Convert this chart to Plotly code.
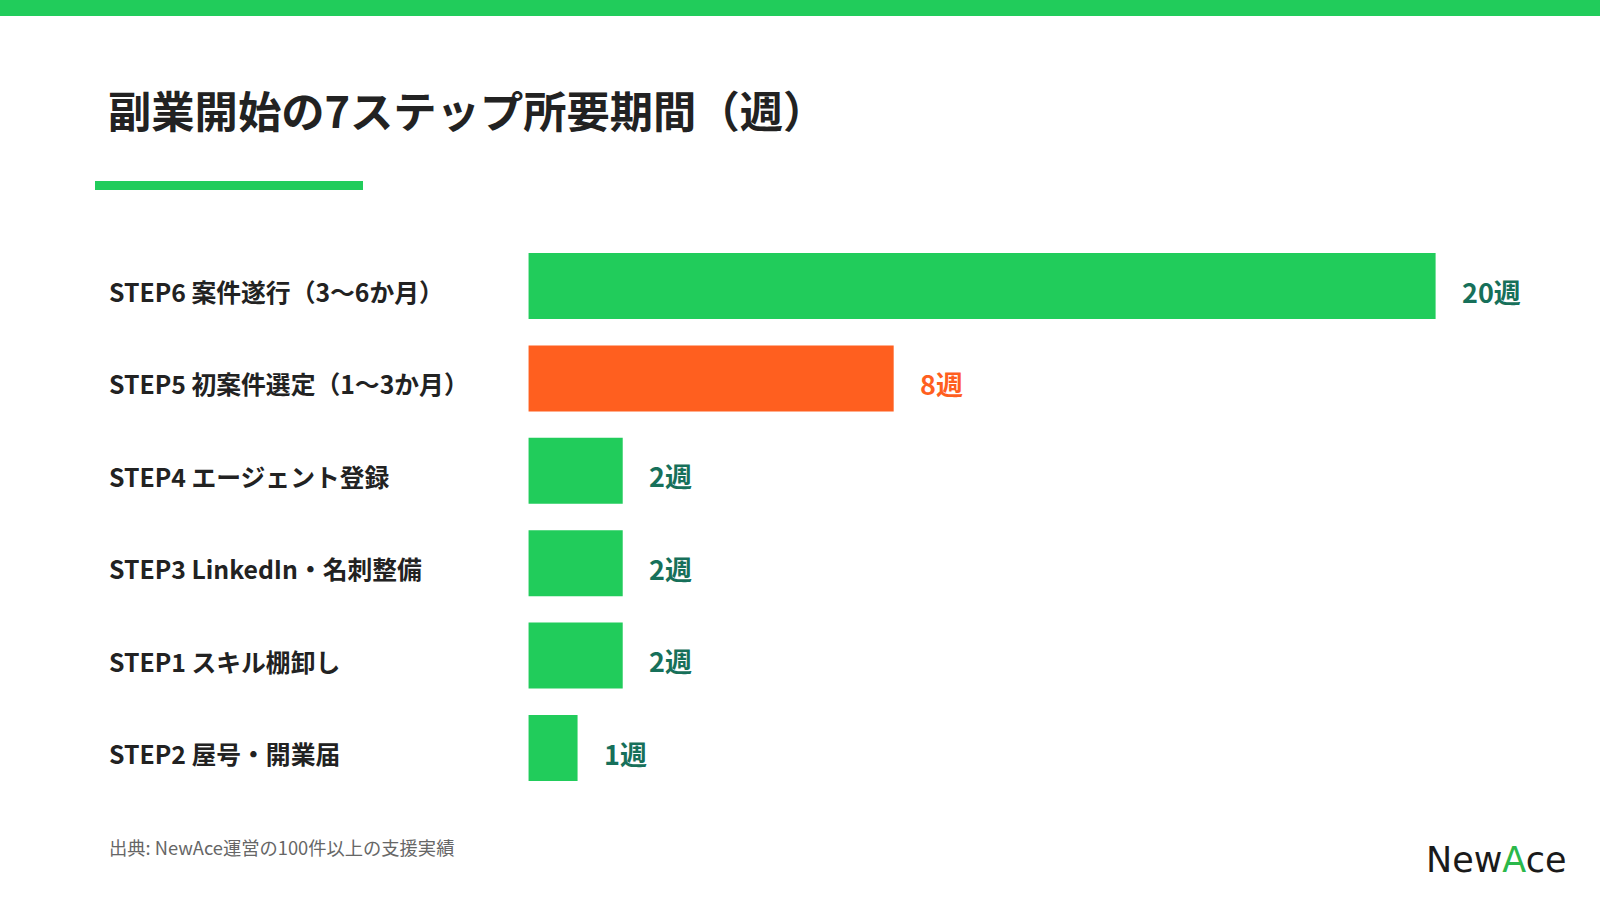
import plotly.graph_objects as go

# Data (top to bottom as displayed)
steps = [
    "STEP6 案件遂行（3〜6か月）",
    "STEP5 初案件選定（1〜3か月）",
    "STEP4 エージェント登録",
    "STEP3 LinkedIn・名刺整備",
    "STEP1 スキル棚卸し",
    "STEP2 屋号・開業届",
]
weeks = [20, 8, 2, 2, 2, 1]
value_labels = ["20週", "8週", "2週", "2週", "2週", "1週"]
highlight = [False, True, False, False, False, False]

title = "副業開始の7ステップ所要期間（週）"
source = "出典: NewAce運営の100件以上の支援実績"

GREEN = "#21CC5B"
ORANGE = "#FF5F1F"
DARK_GREEN = "#17705A"
TEXT = "#222222"
FONT = "Noto Sans CJK JP"

W, H = 1600, 903
bar_colors = [ORANGE if h else GREEN for h in highlight]
label_colors = [ORANGE if h else DARK_GREEN for h in highlight]

BAR_BASE = -0.085

fig = go.Figure(
    go.Bar(
        x=[w - BAR_BASE for w in weeks],
        base=BAR_BASE,
        y=steps,
        orientation="h",
        marker=dict(color=bar_colors, line=dict(width=0)),
        width=0.714,
        hoverinfo="skip",
    )
)

zero_px = 532.4
px_per_week = 45.16
x_dom = [0.30, 1.0]
dom_left_px = x_dom[0] * W
x_range = [-(zero_px - dom_left_px) / px_per_week, (W - zero_px) / px_per_week]

y_top_px, y_bot_px = 239.8, 794.2
y_dom = [(H - y_bot_px) / H, (H - y_top_px) / H]

fig.update_layout(
    width=W,
    height=H,
    margin=dict(l=0, r=0, t=0, b=0),
    paper_bgcolor="white",
    plot_bgcolor="white",
    showlegend=False,
    xaxis=dict(domain=x_dom, range=x_range, visible=False, fixedrange=True),
    yaxis=dict(
        domain=y_dom,
        type="category",
        categoryorder="array",
        categoryarray=steps,
        range=[len(steps) - 0.5, -0.5],
        visible=False,
        fixedrange=True,
    ),
    font=dict(family=FONT),
)

annotations = []
# Step labels
for s in steps:
    annotations.append(dict(
        x=107 / W, xref="paper", xanchor="left",
        y=s, yref="y", yanchor="middle", yshift=-5,
        text=s, showarrow=False,
        font=dict(family=FONT, size=24.8, color=TEXT, weight=700),
    ))
# Value labels
for s, v, t, c in zip(steps, weeks, value_labels, label_colors):
    annotations.append(dict(
        x=v, xref="x", xanchor="left", xshift=24,
        y=s, yref="y", yanchor="middle", yshift=-5,
        text=t, showarrow=False,
        font=dict(family=FONT, size=27, color=c, weight=700),
    ))
# Title
annotations.append(dict(
    x=106 / W, xref="paper", xanchor="left",
    y=1 - 109 / H, yref="paper", yanchor="middle",
    text=title, showarrow=False,
    font=dict(family=FONT, size=43.3, color=TEXT, weight=700),
))
# Source
annotations.append(dict(
    x=107 / W, xref="paper", xanchor="left",
    y=1 - 847 / H, yref="paper", yanchor="middle",
    text=source, showarrow=False,
    font=dict(family=FONT, size=18.3, color="#666666"),
))
# Logo
annotations.append(dict(
    x=1568 / W, xref="paper", xanchor="right",
    y=1 - 860 / H, yref="paper", yanchor="middle",
    text="New<span style='color:#2BB84A'>A</span>ce", showarrow=False,
    font=dict(family="DejaVu Sans", size=35, color="#1a1a1a"),
))
fig.update_layout(annotations=annotations)

shapes = [
    dict(type="rect", xref="paper", yref="paper", x0=0, x1=1,
         y0=1 - 16 / H, y1=1, fillcolor=GREEN, line=dict(width=0), layer="above"),
    dict(type="rect", xref="paper", yref="paper", x0=95 / W, x1=363 / W,
         y0=1 - 190 / H, y1=1 - 181 / H, fillcolor=GREEN, line=dict(width=0)),
]
fig.update_layout(shapes=shapes)

fig.write_html("out.html", config={"displayModeBar": False})
